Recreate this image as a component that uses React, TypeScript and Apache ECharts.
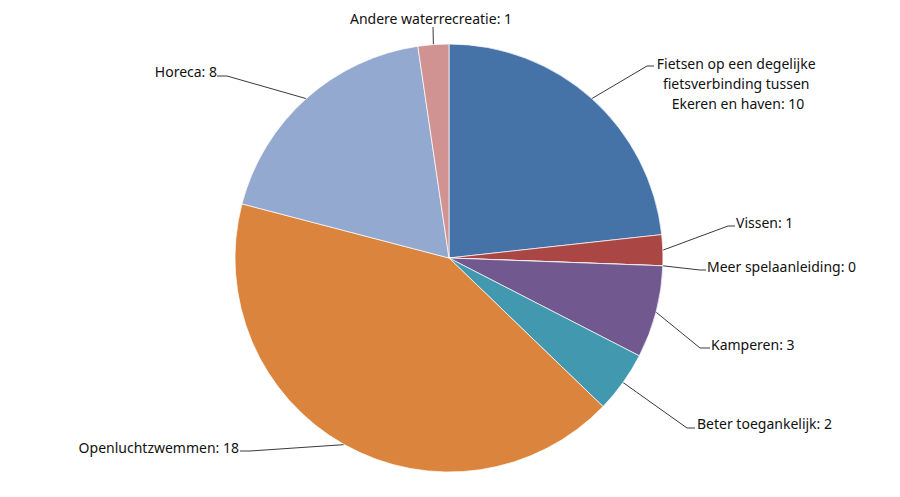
import { useEffect, useRef } from 'react'
import * as echarts from 'echarts'

const categories = [
  'Fietsen op een degelijke fietsverbinding tussen Ekeren en haven',
  'Vissen',
  'Meer spelaanleiding',
  'Kamperen',
  'Beter toegankelijk',
  'Openluchtzwemmen',
  'Horeca',
  'Andere waterrecreatie'
]
const values = [10, 1, 0, 3, 2, 18, 8, 1]

const colors = ['#4572A7', '#AA4643', '#89A54E', '#71588F', '#4198AF', '#DB843D', '#93A9CF', '#D19392']

// label placement: text anchor, then knee + end of the leader line
const labelSpots = [
  { x: 738, y: 83, align: 'center', knee: [647, 66], end: [654, 66] },
  { x: 736, y: 222, align: 'left', knee: [728, 226], end: [735, 226] },
  { x: 707, y: 266, align: 'left', knee: [700, 270], end: [706, 270] },
  { x: 711, y: 344, align: 'left', knee: [700, 348], end: [710, 348] },
  { x: 697, y: 423, align: 'left', knee: [687, 428], end: [695, 428] },
  { x: 239, y: 447, align: 'right', knee: [250, 451], end: [240, 451] },
  { x: 217, y: 71, align: 'right', knee: [227, 76], end: [217, 76] },
  { x: 431, y: 18, align: 'center', knee: [433, 27], end: [433, 27] }
]

export default function App() {
  const ref = useRef<HTMLDivElement | null>(null)

  useEffect(() => {
    if (!ref.current) return
    document.body.style.margin = '0'
    const chart = echarts.init(ref.current, undefined, { renderer: 'svg' })

    const data = categories.map((name, i) => ({
      name,
      value: values[i],
      itemStyle: { color: colors[i] },
      label: i === 0 ? { width: 180, overflow: 'break' as const, align: 'center' as const } : undefined
    }))

    chart.setOption({
      animation: false,
      backgroundColor: '#fff',
      series: [
        {
          type: 'pie',
          center: [449, 258],
          radius: 214,
          startAngle: 90,
          clockwise: true,
          avoidLabelOverlap: false,
          itemStyle: {
            borderColor: 'rgba(255,255,255,0.7)',
            borderWidth: 1
          },
          label: {
            show: true,
            formatter: '{b}: {c}',
            color: '#111',
            fontFamily: 'Noto Sans',
            fontSize: 14,
            lineHeight: 20
          },
          labelLine: {
            show: true,
            length: 20,
            length2: 8,
            lineStyle: { color: '#3a3a3a', width: 1 }
          },
          labelLayout: (params: any) => {
            const spot = labelSpots[params.dataIndex]
            const pts = params.labelLinePoints
            const start = pts ? pts[0] : spot.knee
            return {
              x: spot.x,
              y: spot.y,
              align: spot.align,
              verticalAlign: 'middle',
              labelLinePoints: [start, spot.knee, spot.end]
            }
          },
          emphasis: { disabled: true },
          data
        }
      ]
    })

    return () => {
      chart.dispose()
    }
  }, [])

  return <div ref={ref} style={{ width: 900, height: 497 }} />
}
